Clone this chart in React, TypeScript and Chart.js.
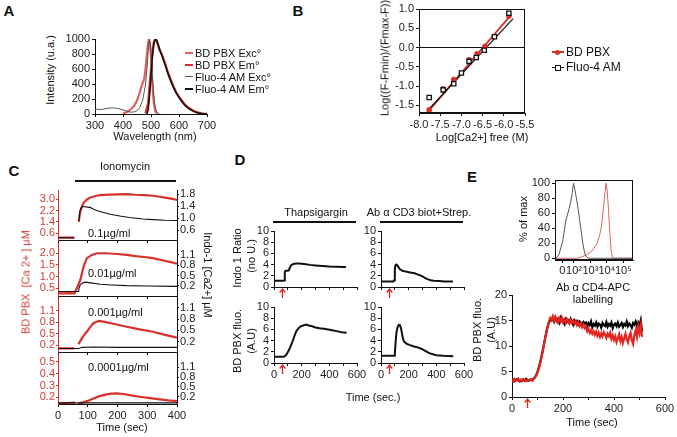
import React, { useEffect, useRef } from "react";
import { Chart, registerables } from "chart.js";
Chart.register(...registerables);

const FONT = "'Liberation Sans', Arial, Helvetica, sans-serif";
const RED = "#d8302b";
const RED_EXC = "#e2605b";
const RED_TXT = "#d23c37";
const INK = "#111111";
const TICK = "#222222";
const PAD = 36;

// ---------------- Panel A : spectra ----------------
const aBdExcNm = [400, 410, 420, 430, 440, 450, 460, 465, 470, 475, 480, 485, 490, 492, 496, 500, 505, 510, 515, 520];
const aBdExcI = [5, 20, 40, 70, 110, 180, 290, 360, 410, 460, 580, 780, 960, 1000, 950, 750, 400, 150, 40, 5];
const aBdEmNm = [480, 490, 495, 500, 505, 510, 515, 520, 525, 530, 540, 550, 560, 570, 580, 590, 600, 610, 620, 630, 640, 650, 660, 670, 680, 690, 700];
const aBdEmI = [10, 150, 380, 600, 820, 960, 1000, 975, 920, 860, 780, 680, 560, 460, 370, 290, 230, 180, 130, 95, 70, 45, 30, 18, 10, 5, 2];
const aFluoExcNm = [300, 310, 320, 330, 340, 350, 360, 370, 380, 390, 400, 410, 420, 430, 440, 450, 460, 470, 480, 486, 490, 494, 498, 502, 506, 510, 515, 520, 530];
const aFluoExcI = [60, 64, 58, 66, 72, 78, 82, 80, 74, 66, 55, 42, 30, 24, 28, 45, 90, 180, 380, 620, 850, 1000, 930, 720, 450, 240, 90, 25, 0];
const aFluoEmNm = [485, 490, 495, 500, 505, 510, 516, 520, 525, 530, 540, 550, 560, 570, 580, 590, 600, 610, 620, 630, 640, 650, 660, 670, 680, 690, 700];
const aFluoEmI = [0, 60, 250, 500, 760, 940, 1000, 985, 935, 870, 770, 660, 545, 445, 355, 280, 220, 165, 120, 85, 60, 38, 22, 12, 6, 3, 1];
const aXTicks = [300, 400, 500, 600, 700];
const aYTicks = [0, 200, 400, 600, 800, 1000];
const aLegend = ["BD PBX Exc°", "BD PBX Em°", "Fluo-4 AM Exc°", "Fluo-4 AM Em°"];

// ---------------- Panel B : calibration ----------------
const bBdLogCa = [-7.76, -7.43, -7.18, -6.82, -6.63, -6.44, -5.88];
const bBdVal = [-1.62, -1.07, -0.83, -0.32, -0.16, 0.03, 0.82];
const bFluoLogCa = [-7.76, -7.43, -7.18, -7.0, -6.82, -6.65, -6.46, -6.22, -5.88];
const bFluoVal = [-1.3, -1.1, -0.94, -0.66, -0.36, -0.26, -0.07, 0.28, 0.89];
const bBdFitX = [-7.76, -5.86];
const bBdFitY = [-1.63, 0.81];
const bFluoFitX = [-7.74, -5.78];
const bFluoFitY = [-1.57, 0.75];
const bZeroX = [-8, -5.5];
const bZeroY = [0, 0];
const bXTicks = [-8.0, -7.5, -7.0, -6.5, -6.0, -5.5];
const bYTicks = [-1.5, -1.0, -0.5, 0.0, 0.5, 1.0];

// ---------------- Panel C : ionomycin ----------------
const cTimeTicks = [0, 100, 200, 300, 400];
const c1RedT = [0, 20, 40, 55, 62, 70, 73, 76, 80, 86, 95, 103, 120, 142, 170, 200, 230, 260, 290, 320, 342, 360, 380, 390, 400];
const c1RedV = [0.29, 0.3, 0.29, 0.3, null, 1.4, 1.9, 2.2, 2.45, 2.75, 2.95, 3.07, 3.2, 3.3, 3.33, 3.35, 3.36, 3.32, 3.3, 3.25, 3.18, 3.12, 3.05, 3.0, 2.95];
const c1BlkT = [0, 20, 40, 55, 62, 70, 73, 76, 81, 90, 100, 108, 120, 135, 153, 175, 208, 240, 286, 320, 360, 400];
const c1BlkV = [0.34, 0.34, 0.34, 0.34, null, 0.9, 1.2, 1.32, 1.39, 1.38, 1.37, 1.36, 1.3, 1.24, 1.19, 1.13, 1.07, 1.02, 0.97, 0.95, 0.93, 0.92];
const c2RedT = [0, 20, 40, 55, 58, 65, 75, 86, 97, 114, 131, 160, 200, 231, 260, 290, 319, 350, 380, 400];
const c2RedV = [0.28, 0.28, 0.29, 0.28, 0.35, 0.55, 0.86, 1.43, 1.79, 1.93, 2.0, 2.0, 1.97, 1.93, 1.88, 1.84, 1.79, 1.7, 1.62, 1.55];
const c2BlkT = [0, 30, 68, 70, 74, 80, 92, 110, 142, 180, 231, 300, 400];
const c2BlkV = [0.04, 0.04, 0.04, 0.12, 0.22, 0.28, 0.31, 0.29, 0.25, 0.23, 0.21, 0.2, 0.19];
const c3RedT = [0, 30, 55, 62, 69, 80, 90, 97, 108, 119, 130, 139, 160, 190, 231, 270, 319, 360, 400];
const c3RedV = [0.12, 0.12, 0.12, null, 0.23, 0.38, 0.49, 0.55, 0.67, 0.77, 0.81, 0.83, 0.8, 0.75, 0.68, 0.62, 0.55, 0.47, 0.4];
const c3BlkT = [0, 70, 80, 120, 200, 400];
const c3BlkV = [0.02, 0.02, 0.05, 0.06, 0.05, 0.05];
const c4RedT = [0, 30, 57, 63, 68, 81, 100, 119, 140, 164, 180, 197, 220, 250, 275, 310, 342, 370, 400];
const c4RedV = [0.15, 0.152, 0.155, null, 0.15, 0.155, 0.17, 0.19, 0.21, 0.225, 0.232, 0.234, 0.228, 0.215, 0.205, 0.193, 0.183, 0.175, 0.169];
const c4BlkT = [0, 400];
const c4BlkV = [0.01, 0.01];
const c1RedTicks = [0.6, 1.4, 2.2, 3.0];
const c1BlkTicks = [0.6, 1.0, 1.4, 1.8];
const c2RedTicks = [0.5, 1.0, 1.5, 2.0];
const c2BlkTicks = [0.2, 0.5, 0.8, 1.1];
const c3RedTicks = [0.2, 0.5, 0.8, 1.1];
const c3BlkTicks = [0.2, 0.5, 0.8, 1.1];
const c4RedTicks = [0.2, 0.3, 0.4, 0.5];
const c4BlkTicks = [0.2, 0.5, 0.8, 1.1];
const cDoses = ["0.1µg/ml", "0.01µg/ml", "0.001µg/ml", "0.0001µg/ml"];

// ---------------- Panel D ----------------
const dTimeTicks = [0, 100, 200, 300, 400, 500, 600];
const dTimeLabels = [0, 200, 400, 600];
const dYTicks = [0, 2, 4, 6, 8, 10];
const dStimTime = 55;
const dThapIndoT = [0, 20, 40, 60, 75, 78, 85, 100, 108, 115, 125, 140, 160, 180, 200, 230, 260, 300, 350, 400, 450, 500, 520];
const dThapIndoV = [1.1, 1.1, 1.1, 1.1, 1.15, 2.7, 2.9, 2.9, 3.0, 3.5, 3.9, 4.1, 4.2, 4.2, 4.15, 4.05, 3.95, 3.85, 3.75, 3.65, 3.6, 3.55, 3.55];
const dCd3IndoT = [0, 50, 90, 95, 100, 105, 112, 120, 135, 155, 180, 210, 243, 270, 300, 320, 340, 360, 380, 420, 460, 520];
const dCd3IndoV = [1.0, 1.0, 1.0, 1.2, 3.2, 3.9, 4.0, 3.8, 3.2, 2.9, 2.75, 2.6, 2.45, 2.2, 1.9, 1.6, 1.35, 1.2, 1.1, 1.05, 1.0, 1.0];
const dThapPbxT = [0, 30, 60, 75, 90, 110, 125, 137, 150, 162, 174, 190, 210, 234, 250, 270, 300, 330, 360, 403, 430, 460, 490, 525];
const dThapPbxV = [1.1, 1.1, 1.1, 1.15, 1.5, 2.4, 3.3, 4.05, 5.0, 5.7, 6.1, 6.5, 6.7, 6.85, 6.7, 6.6, 6.35, 6.2, 6.1, 5.95, 5.8, 5.65, 5.5, 5.4];
const dCd3PbxT = [0, 50, 95, 100, 105, 112, 120, 128, 136, 145, 155, 165, 183, 210, 240, 270, 291, 320, 345, 362, 400, 450, 490, 522];
const dCd3PbxV = [1.3, 1.3, 1.3, 1.6, 3.5, 5.5, 6.4, 6.8, 6.75, 6.2, 4.8, 3.9, 3.45, 3.2, 2.95, 2.75, 2.55, 2.15, 1.8, 1.65, 1.4, 1.3, 1.25, 1.2];

// ---------------- Panel E ----------------
const eHistTicks = [1.29, 2, 3, 4, 5];
const eHistTickLabels = ["0", "10²", "10³", "10⁴", "10⁵"];
const eHistYTicks = [0, 20, 40, 60, 80, 100];
const eHistBlkPos = [0.85, 1.0, 1.1, 1.2, 1.3, 1.4, 1.5, 1.6, 1.7, 1.8, 1.9, 1.97, 2.05, 2.15, 2.25, 2.35, 2.45, 2.55, 2.65, 2.75, 2.9, 4.0, 5.6];
const eHistBlkPct = [0, 2, 6, 14, 22, 35, 50, 58, 66, 75, 88, 100, 92, 80, 66, 50, 34, 18, 7, 2, 0, 0, 0];
const eHistRedPos = [0.85, 2.2, 2.5, 2.8, 3.0, 3.2, 3.4, 3.55, 3.65, 3.75, 3.85, 3.95, 4.02, 4.1, 4.18, 4.25, 4.32, 4.4, 5.6];
const eHistRedPct = [0, 0, 2, 5, 8, 13, 20, 30, 40, 58, 80, 100, 90, 65, 35, 12, 3, 0, 0];
const eStep = 5;
const eStimTime = 57;
const eTimeTicks = [0, 100, 200, 300, 400, 500, 600];
const eTimeLabels = [0, 200, 400, 600];
const eYTicks = [0, 5, 10, 15, 20];
const eBlack = [
  3.2, 3.4, 3.1, 3.3, 3.5, 3.2, 3.3, 3.1, 3.4, 3.3, 3.2, 3.5, 3.3, 3.2, 3.4, 3.3, 3.4,
  3.6, 3.9, 4.3, 5.0, 5.8, 6.7, 7.8, 9.0, 10.3, 11.6, 12.8, 13.8, 14.6, 15.2, 15.0, 15.4,
  14.8, 15.6, 14.9, 15.3, 14.6, 15.5, 14.9, 15.1, 14.4, 15.2, 14.7, 15.0, 14.5, 15.3, 14.8, 14.2, 15.0, 14.6, 14.9, 14.3, 14.8, 14.5, 14.1, 14.7, 14.4, 14.6,
  13.9, 14.5, 14.1, 14.8, 13.7, 14.3, 14.0, 14.6, 13.8, 14.4, 14.2, 13.6, 14.5, 14.1, 13.9, 14.7, 13.8, 14.3, 14.0, 14.6, 13.5, 14.2, 14.4, 13.9, 14.6, 13.8, 14.1, 14.5, 13.7, 14.3, 14.0, 14.8, 13.9, 14.4, 14.1, 13.6, 14.5, 14.2, 14.8, 14.0, 14.6, 13.9, 15.0, 12.8,
];
const eRed = [
  3.4, 3.1, 3.5, 3.2, 3.3, 3.6, 3.1, 3.4, 3.2, 3.5, 3.3, 3.1, 3.4, 3.2, 3.3, 3.5, 3.2,
  3.5, 3.8, 4.2, 4.8, 5.6, 6.5, 7.6, 8.8, 10.1, 11.5, 12.7, 13.9, 14.8, 15.5, 15.1, 15.8,
  14.9, 15.7, 15.0, 14.6, 15.4, 14.8, 15.6, 14.7, 15.2, 14.5, 15.3, 14.9, 14.4, 15.1, 14.6, 15.0, 14.3, 14.8, 14.1, 14.6, 13.9, 14.4, 13.7, 14.2, 13.5, 13.8,
  12.9, 13.4, 12.6, 13.1, 12.4, 12.9, 12.2, 12.8, 12.0, 12.6, 11.8, 12.5, 11.9, 12.7, 12.2, 11.6, 12.4, 11.9, 12.6, 11.4, 12.1, 11.2, 11.9, 10.8, 11.6, 12.3, 11.0, 11.8, 10.6, 11.5, 12.4, 11.3, 10.7, 11.9, 12.6, 11.1, 10.4, 12.2, 13.1, 11.8, 13.9, 12.6, 14.1, 11.8,
];

// ---------------- helpers ----------------
type Box = [number, number, number, number];

function pts(xs: number[], ys: (number | null)[]) {
  return xs.map((x, i) => ({ x, y: ys[i] }));
}

function line(xs: number[], ys: (number | null)[], color: string, width: number, extra: any = {}) {
  return {
    data: pts(xs, ys),
    borderColor: color,
    backgroundColor: color,
    borderWidth: width,
    pointRadius: 0,
    tension: 0,
    fill: false,
    spanGaps: false,
    ...extra,
  };
}

function ax(o: any) {
  const horiz = o.pos === "bottom" || o.pos === "top";
  return {
    type: "linear",
    position: o.pos,
    min: o.min,
    max: o.max,
    afterBuildTicks: (s: any) => {
      s.ticks = o.ticks.map((v: number) => ({ value: v }));
    },
    afterFit: (s: any) => {
      if (horiz) s.height = PAD;
      else s.width = PAD;
      s.paddingLeft = 0;
      s.paddingRight = 0;
      s.paddingTop = 0;
      s.paddingBottom = 0;
    },
    ticks: {
      display: o.labels !== false,
      autoSkip: false,
      maxRotation: 0,
      minRotation: 0,
      padding: o.tpad ?? 2,
      color: o.textColor ?? TICK,
      font: { family: FONT, size: o.size ?? 11 },
      callback: (v: number, i: number) => (o.fmt ? o.fmt(v, i) : String(v)),
    },
    grid: {
      display: true,
      drawOnChartArea: false,
      drawTicks: true,
      tickLength: o.tickLen ?? 3,
      color: o.color ?? INK,
      lineWidth: 1,
    },
    border: { display: o.border !== false, color: o.color ?? INK, width: 1 },
  };
}

function baseOptions(scales: any) {
  const pos = Object.values(scales).map((s: any) => s.position);
  return {
    responsive: false,
    maintainAspectRatio: false,
    animation: false,
    devicePixelRatio: 1,
    events: [],
    layout: {
      padding: {
        left: pos.includes("left") ? 0 : PAD,
        right: pos.includes("right") ? 0 : PAD,
        top: pos.includes("top") ? 0 : PAD,
        bottom: pos.includes("bottom") ? 0 : PAD,
      },
      autoPadding: false,
    },
    plugins: { legend: { display: false }, tooltip: { enabled: false } },
    scales,
  };
}

const framePlugin = {
  id: "frame",
  afterDatasetsDraw(chart: any) {
    const { ctx, chartArea: a } = chart;
    ctx.save();
    ctx.strokeStyle = INK;
    ctx.lineWidth = 1;
    ctx.strokeRect(a.left + 0.5, a.top + 0.5, a.right - a.left - 1, a.bottom - a.top - 1);
    ctx.restore();
  },
};

function arrowPlugin(at: number) {
  return {
    id: "arrow",
    afterDraw(chart: any) {
      const { ctx, chartArea: a } = chart;
      const x = Math.round(chart.scales.x.getPixelForValue(at)) + 0.5;
      const y0 = a.bottom + 2;
      ctx.save();
      ctx.strokeStyle = "#e0201c";
      ctx.lineWidth = 1.3;
      ctx.beginPath();
      ctx.moveTo(x, y0);
      ctx.lineTo(x, y0 + 9);
      ctx.moveTo(x - 2.8, y0 + 3.5);
      ctx.lineTo(x, y0);
      ctx.lineTo(x + 2.8, y0 + 3.5);
      ctx.stroke();
      ctx.restore();
    },
  };
}

function ChartBox({ box, make }: { box: Box; make: () => any }) {
  const ref = useRef<HTMLCanvasElement>(null);
  useEffect(() => {
    const c = new Chart(ref.current as HTMLCanvasElement, make());
    return () => c.destroy();
  }, []);
  const [l, t, r, b] = box;
  const w = r - l + 2 * PAD;
  const h = b - t + 2 * PAD;
  return (
    <canvas
      ref={ref}
      width={w}
      height={h}
      style={{ position: "absolute", left: l - PAD, top: t - PAD, width: w, height: h }}
    />
  );
}

function Txt(p: { x: number; y: number; children: any; size?: number; color?: string; rot?: number; bold?: boolean; left?: boolean }) {
  const tr = p.left ? `translate(0,-50%)` : `translate(-50%,-50%) rotate(${p.rot ?? 0}deg)`;
  return (
    <div
      style={{
        position: "absolute",
        left: p.x,
        top: p.y,
        transform: tr,
        whiteSpace: "nowrap",
        fontFamily: FONT,
        fontSize: p.size ?? 11,
        color: p.color ?? INK,
        fontWeight: p.bold ? 700 : 400,
        lineHeight: 1,
      }}
    >
      {p.children}
    </div>
  );
}

function HLine({ x1, x2, y, h = 1.5, color = INK }: { x1: number; x2: number; y: number; h?: number; color?: string }) {
  return <div style={{ position: "absolute", left: x1, top: y - h / 2, width: x2 - x1, height: h, background: color }} />;
}

// ---------------- chart configs ----------------
const makeA = () => ({
  type: "line",
  data: {
    datasets: [
      line(aFluoEmNm, aFluoEmI, "#111", 1.6),
      line(aFluoExcNm, aFluoExcI, "#555", 1),
      line(aBdEmNm, aBdEmI, RED, 2.2),
      line(aBdExcNm, aBdExcI, RED_EXC, 2.2),
    ],
  },
  options: baseOptions({
    x: ax({ pos: "bottom", min: 300, max: 700, ticks: aXTicks }),
    y: ax({ pos: "left", min: 0, max: 1000, ticks: aYTicks }),
  }),
});

const makeB = () => ({
  type: "line",
  data: {
    datasets: [
      {
        data: pts(bFluoLogCa, bFluoVal),
        showLine: false,
        pointStyle: "rect",
        pointRadius: 3,
        borderWidth: 1.3,
        borderColor: "#111",
        backgroundColor: "#fff",
      },
      {
        data: pts(bBdLogCa, bBdVal),
        showLine: false,
        pointStyle: "circle",
        pointRadius: 2.8,
        borderWidth: 0,
        backgroundColor: RED,
        borderColor: RED,
      },
      line(bFluoFitX, bFluoFitY, "#111", 1.2),
      line(bBdFitX, bBdFitY, RED, 1.8),
      line(bZeroX, bZeroY, "#111", 1.2),
    ],
  },
  options: baseOptions({
    x: ax({ pos: "bottom", min: -8, max: -5.5, ticks: bXTicks, fmt: (v: number) => v.toFixed(1) }),
    y: ax({ pos: "left", min: -1.7, max: 1.0, ticks: bYTicks, fmt: (v: number) => v.toFixed(1) }),
  }),
  plugins: [framePlugin],
});

const cSubs = [
  { rt: c1RedT, rv: c1RedV, bt: c1BlkT, bv: c1BlkV, rTicks: c1RedTicks, bTicks: c1BlkTicks, rMin: 0.127, rMax: 3.656, bMin: 0.264, bMax: 1.945, box: [58, 190, 177, 240] as Box, labelY: 233 },
  { rt: c2RedT, rv: c2RedV, bt: c2BlkT, bv: c2BlkV, rTicks: c2RedTicks, bTicks: c2BlkTicks, rMin: 0.17, rMax: 2.44, bMin: -0.088, bMax: 1.436, box: [58, 243, 177, 296] as Box, labelY: 273 },
  { rt: c3RedT, rv: c3RedV, bt: c3BlkT, bv: c3BlkV, rTicks: c3RedTicks, bTicks: c3BlkTicks, rMin: 0.027, rMax: 1.423, bMin: -0.073, bMax: 1.357, box: [58, 298, 177, 352] as Box, labelY: 312 },
  { rt: c4RedT, rv: c4RedV, bt: c4BlkT, bv: c4BlkV, rTicks: c4RedTicks, bTicks: c4BlkTicks, rMin: 0.144, rMax: 0.565, bMin: -0.023, bMax: 1.507, box: [58, 354, 177, 404] as Box, labelY: 367 },
];

const makeC = (i: number) => () => {
  const s = cSubs[i];
  return {
    type: "line",
    data: {
      datasets: [
        line(s.bt, s.bv, "#111", 1.1, { yAxisID: "yB" }),
        line(s.rt, s.rv, RED, 2.2, { yAxisID: "yR" }),
      ],
    },
    options: baseOptions({
      x: ax({ pos: "bottom", min: 0, max: 400, ticks: cTimeTicks, labels: i === 3 }),
      yR: ax({ pos: "left", min: s.rMin, max: s.rMax, ticks: s.rTicks, color: RED, textColor: RED_TXT, fmt: (v: number) => v.toFixed(1), tickLen: 2, tpad: 1 }),
      yB: ax({ pos: "right", min: s.bMin, max: s.bMax, ticks: s.bTicks, fmt: (v: number) => v.toFixed(1), tickLen: 2, tpad: 1 }),
    }),
  };
};

const makeD = (t: number[], v: number[], showX: boolean) => () => ({
  type: "line",
  data: { datasets: [line(t, v, "#111", 2)] },
  options: baseOptions({
    x: ax({
      pos: "bottom",
      min: 0,
      max: 600,
      ticks: dTimeTicks,
      labels: showX,
      fmt: (val: number) => (dTimeLabels.includes(val) ? String(val) : ""),
    }),
    y: ax({ pos: "left", min: 0, max: 10, ticks: dYTicks }),
  }),
  plugins: [arrowPlugin(dStimTime)],
});

const makeEHist = () => ({
  type: "line",
  data: {
    datasets: [
      line(eHistBlkPos, eHistBlkPct, "#555", 1),
      line(eHistRedPos, eHistRedPct, "#e0625e", 1),
    ],
  },
  options: baseOptions({
    x: ax({ pos: "bottom", min: 0.844, max: 5.59, ticks: eHistTicks, fmt: (_v: number, i: number) => eHistTickLabels[i], tpad: 1 }),
    y: ax({ pos: "left", min: -2.3, max: 104.4, ticks: eHistYTicks }),
  }),
  plugins: [framePlugin],
});

const eTimes = eBlack.map((_, i) => i * eStep);

const makeETrace = () => ({
  type: "line",
  data: {
    datasets: [
      line(eTimes, eRed, "#e3241f", 2.2),
      line(eTimes, eBlack, "#000", 2.2),
    ],
  },
  options: baseOptions({
    x: ax({ pos: "bottom", min: 0, max: 600, ticks: eTimeTicks, fmt: (val: number) => (eTimeLabels.includes(val) ? String(val) : "") }),
    y: ax({ pos: "left", min: 0, max: 20, ticks: eYTicks }),
  }),
  plugins: [arrowPlugin(eStimTime)],
});

const aLegendColors = [RED_EXC, RED, "#555", "#111"];
const aLegendY = [53, 65, 77, 89];

export default function App() {
  return (
    <div
      style={{
        position: "absolute",
        left: 0,
        top: 0,
        width: 677,
        height: 437,
        background: "#fff",
        overflow: "hidden",
        fontFamily: FONT,
      }}
    >
      {/* Panel letters */}
      <Txt x={9} y={10} size={15} bold>A</Txt>
      <Txt x={298} y={10} size={15} bold>B</Txt>
      <Txt x={14} y={170} size={15} bold>C</Txt>
      <Txt x={240} y={159} size={15} bold>D</Txt>
      <Txt x={472} y={176} size={15} bold>E</Txt>

      {/* Panel A */}
      <ChartBox box={[95, 39, 207, 114]} make={makeA} />
      <Txt x={50} y={70} rot={-90}>Intensity (u.a.)</Txt>
      <Txt x={155} y={136}>Wavelength (nm)</Txt>
      {aLegend.map((s, i) => (
        <React.Fragment key={s}>
          <div style={{ position: "absolute", left: 185, top: aLegendY[i] - 1, width: 8, height: i === 2 ? 1 : 2, background: aLegendColors[i] }} />
          <Txt x={195} y={aLegendY[i]} left>{s}</Txt>
        </React.Fragment>
      ))}

      {/* Panel B */}
      <ChartBox box={[419, 9, 525, 113]} make={makeB} />
      <Txt x={385} y={58} rot={-90}>Log((F-Fmin)/(Fmax-F))</Txt>
      <Txt x={482} y={137}>Log[Ca2+] free (M)</Txt>
      <div style={{ position: "absolute", left: 552, top: 51, width: 12, height: 2, background: RED }} />
      <div style={{ position: "absolute", left: 555, top: 49.5, width: 5, height: 5, borderRadius: 3, background: RED }} />
      <Txt x={566} y={52} left size={12}>BD PBX</Txt>
      <div style={{ position: "absolute", left: 552, top: 66.5, width: 12, height: 1, background: "#111" }} />
      <div style={{ position: "absolute", left: 555, top: 64.5, width: 4, height: 4, border: "1px solid #111", background: "#fff" }} />
      <Txt x={566} y={67} left size={12}>Fluo-4 AM</Txt>

      {/* Panel C */}
      {cSubs.map((s, i) => (
        <ChartBox key={"c" + i} box={s.box} make={makeC(i)} />
      ))}
      {cSubs.map((s, i) => (
        <Txt key={"cl" + i} x={88} y={s.labelY} left>{cDoses[i]}</Txt>
      ))}
      <Txt x={125} y={166}>Ionomycin</Txt>
      <HLine x1={75} x2={176} y={181} />
      <Txt x={26} y={282} rot={-90} color={RED_TXT}>BD PBX&nbsp;&nbsp;[Ca 2+ ] µM</Txt>
      <Txt x={207} y={275} rot={90}>Indo-1 [Ca2+] µM</Txt>
      <Txt x={122} y={427}>Time (sec)</Txt>

      {/* Panel D */}
      <ChartBox box={[274, 231, 357, 287]} make={makeD(dThapIndoT, dThapIndoV, false)} />
      <ChartBox box={[381, 231, 464, 287]} make={makeD(dCd3IndoT, dCd3IndoV, false)} />
      <ChartBox box={[274, 307, 357, 363]} make={makeD(dThapPbxT, dThapPbxV, true)} />
      <ChartBox box={[381, 307, 464, 363]} make={makeD(dCd3PbxT, dCd3PbxV, true)} />
      <Txt x={316} y={212}>Thapsigargin</Txt>
      <HLine x1={273} x2={356} y={222} />
      <Txt x={419} y={212}>Ab α CD3 biot+Strep.</Txt>
      <HLine x1={380} x2={463} y={222} />
      <Txt x={237} y={258} rot={-90}>Indo 1 Ratio</Txt>
      <Txt x={251} y={256} rot={-90}>(no U.)</Txt>
      <Txt x={237} y={341} rot={-90}>BD PBX fluo.</Txt>
      <Txt x={251} y={341} rot={-90}>(A.U)</Txt>
      <Txt x={373} y={397}>Time (sec.)</Txt>

      {/* Panel E */}
      <ChartBox box={[555, 180, 633, 260]} make={makeEHist} />
      <Txt x={523} y={219} rot={-90}>% of max</Txt>
      <Txt x={593} y={287}>Ab α CD4-APC</Txt>
      <Txt x={593} y={299}>labelling</Txt>
      <ChartBox box={[512, 295, 665, 397]} make={makeETrace} />
      <Txt x={477} y={330} rot={-90}>BD PBX fluo.</Txt>
      <Txt x={491} y={330} rot={-90}>(A.U)</Txt>
      <Txt x={592} y={422}>Time (sec)</Txt>
    </div>
  );
}
